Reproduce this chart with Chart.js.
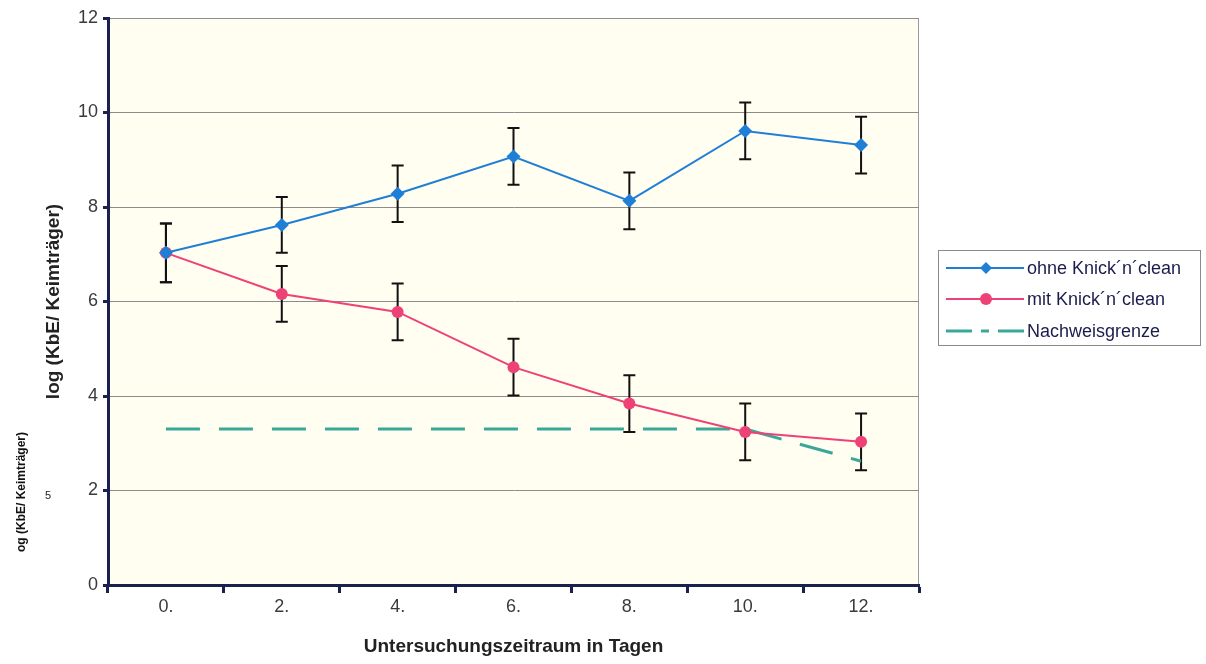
<!DOCTYPE html>
<html>
<head>
<meta charset="utf-8">
<script src="https://cdn.jsdelivr.net/npm/chart.js@4/dist/chart.umd.min.js"></script>
<style>
  html, body { margin: 0; padding: 0; background: #ffffff; }
  #wrap { width: 1206px; height: 664px; position: relative; }
</style>
</head>
<body>
<div id="wrap"><canvas id="c" width="1206" height="664"></canvas></div>
<script>
const categories = ['0.', '2.', '4.', '6.', '8.', '10.', '12.'];
const ohneKnick = [7.03, 7.62, 8.28, 9.07, 8.13, 9.61, 9.31];
const ohneKnickErr = [0.62, 0.59, 0.60, 0.60, 0.60, 0.60, 0.60];
const mitKnick = [7.03, 6.16, 5.78, 4.61, 3.84, 3.24, 3.03];
const mitKnickErr = [0.62, 0.59, 0.60, 0.60, 0.60, 0.60, 0.60];
const nachweisgrenze = [3.3, 3.3, 3.3, 3.3, 3.3, 3.3, 2.62];
const seriesNames = ['ohne Knick\u00b4n\u00b4clean', 'mit Knick\u00b4n\u00b4clean', 'Nachweisgrenze'];
const xTitle = 'Untersuchungszeitraum in Tagen';
const yTitle = 'log (KbE/ Keimträger)';

const BLUE = '#1f7fd6';
const RED = '#ee4277';
const TEAL = '#3aa898';
const NAVY = '#1a2050';
const FONT = "'Liberation Sans', Arial, sans-serif";

const bgPlugin = {
  id: 'bg',
  beforeDraw(chart) {
    const { ctx, chartArea: a } = chart;
    ctx.save();
    ctx.fillStyle = '#ffffff';
    ctx.fillRect(0, 0, chart.width, chart.height);
    ctx.fillStyle = '#fffef1';
    ctx.fillRect(a.left, a.top, a.right - a.left, a.bottom - a.top);
    ctx.strokeStyle = '#9a9a9a';
    ctx.lineWidth = 1;
    ctx.strokeRect(a.left + 0.5, a.top + 0.5, a.right - a.left - 1, a.bottom - a.top);
    ctx.restore();
  }
};

const errPlugin = {
  id: 'errbars',
  beforeDatasetsDraw(chart) {
    const { ctx } = chart;
    const xs = chart.scales.x, ys = chart.scales.y;
    const sets = [[ohneKnick, ohneKnickErr], [mitKnick, mitKnickErr]];
    ctx.save();
    ctx.strokeStyle = '#111111';
    ctx.lineWidth = 2;
    sets.forEach(([vals, errs]) => {
      vals.forEach((v, i) => {
        const x = xs.getPixelForValue(i);
        const yt = ys.getPixelForValue(v + errs[i]);
        const yb = ys.getPixelForValue(v - errs[i]);
        ctx.beginPath();
        ctx.moveTo(x, yt); ctx.lineTo(x, yb);
        ctx.moveTo(x - 6, yt); ctx.lineTo(x + 6, yt);
        ctx.moveTo(x - 6, yb); ctx.lineTo(x + 6, yb);
        ctx.stroke();
      });
    });
    ctx.restore();
  }
};

const textPlugin = {
  id: 'texts',
  afterDraw(chart) {
    const { ctx, chartArea: a } = chart;
    ctx.save();
    // axis titles
    ctx.fillStyle = '#222222';
    ctx.font = 'bold 19px ' + FONT;
    ctx.textAlign = 'center';
    ctx.textBaseline = 'middle';
    ctx.fillText(xTitle, (a.left + a.right) / 2, 647);
    ctx.save();
    ctx.translate(54, (a.top + a.bottom) / 2);
    ctx.rotate(-Math.PI / 2);
    ctx.font = 'bold 19px ' + FONT;
    ctx.fillText(yTitle, 0, 0);
    ctx.restore();
    // stray scan text at far left
    ctx.save();
    ctx.font = 'bold 12px ' + FONT;
    ctx.fillStyle = '#111111';
    ctx.translate(22, 492);
    ctx.rotate(-Math.PI / 2);
    ctx.fillText('og (KbE/ Keimträger)', 0, 0);
    ctx.restore();
    ctx.font = '11px ' + FONT;
    ctx.fillStyle = '#222222';
    ctx.fillText('5', 48, 496);

    // legend
    const lx = 938, ly = 250, lw = 262, lh = 95;
    ctx.fillStyle = '#ffffff';
    ctx.fillRect(lx, ly, lw, lh);
    ctx.strokeStyle = '#8a8a8a';
    ctx.lineWidth = 1;
    ctx.strokeRect(lx + 0.5, ly + 0.5, lw, lh);
    const rows = [268, 299, 331];
    ctx.textAlign = 'left';
    ctx.font = '18px ' + FONT;
    rows.forEach((ry, i) => {
      ctx.save();
      if (i === 0) {
        ctx.strokeStyle = BLUE; ctx.lineWidth = 2;
        ctx.beginPath(); ctx.moveTo(946, ry); ctx.lineTo(1024, ry); ctx.stroke();
        ctx.fillStyle = BLUE;
        ctx.beginPath();
        ctx.moveTo(986, ry - 6); ctx.lineTo(992, ry); ctx.lineTo(986, ry + 6); ctx.lineTo(980, ry);
        ctx.closePath(); ctx.fill();
      } else if (i === 1) {
        ctx.strokeStyle = RED; ctx.lineWidth = 2;
        ctx.beginPath(); ctx.moveTo(946, ry); ctx.lineTo(1024, ry); ctx.stroke();
        ctx.fillStyle = RED;
        ctx.beginPath(); ctx.arc(986, ry, 6, 0, Math.PI * 2); ctx.fill();
      } else {
        ctx.strokeStyle = TEAL; ctx.lineWidth = 3;
        ctx.beginPath();
        ctx.moveTo(946, ry); ctx.lineTo(972, ry);
        ctx.moveTo(981, ry); ctx.lineTo(989, ry);
        ctx.moveTo(998, ry); ctx.lineTo(1024, ry);
        ctx.stroke();
      }
      ctx.restore();
      ctx.fillStyle = '#1c1c4c';
      ctx.fillText(seriesNames[i], 1027, ry + 1);
    });
    ctx.restore();
  }
};

new Chart(document.getElementById('c'), {
  type: 'line',
  data: {
    labels: categories,
    datasets: [
      {
        label: seriesNames[0], data: ohneKnick, order: 0,
        borderColor: BLUE, backgroundColor: BLUE, borderWidth: 2,
        pointStyle: 'rectRot', pointRadius: 7, pointBorderWidth: 0,
        tension: 0
      },
      {
        label: seriesNames[1], data: mitKnick, order: 1,
        borderColor: RED, backgroundColor: RED, borderWidth: 2,
        pointStyle: 'circle', pointRadius: 6, pointBorderWidth: 0,
        tension: 0
      },
      {
        label: seriesNames[2], data: nachweisgrenze, order: 2,
        borderColor: TEAL, backgroundColor: TEAL, borderWidth: 3,
        borderDash: [34, 19], pointRadius: 0, tension: 0
      }
    ]
  },
  options: {
    responsive: false,
    animation: false,
    layout: { padding: { left: 0, top: 18, right: 287, bottom: 0 } },
    plugins: { legend: { display: false }, tooltip: { enabled: false }, title: { display: false } },
    scales: {
      x: {
        type: 'category',
        offset: true,
        grid: { offset: true, drawOnChartArea: false, drawTicks: true, tickLength: 8, tickColor: NAVY, tickWidth: 3 },
        border: { color: NAVY, width: 3 },
        ticks: { color: '#3a3a3a', font: { size: 18, family: FONT }, padding: 3 },
        afterFit(s) { s.height = 79; }
      },
      y: {
        min: 0, max: 12,
        ticks: { stepSize: 2, color: '#3a3a3a', font: { size: 18, family: FONT }, padding: 5 },
        grid: { color: '#8c8c8c', lineWidth: 1, tickLength: 5, tickColor: NAVY, tickWidth: 3 },
        border: { color: NAVY, width: 3 },
        afterFit(s) { s.width = 108; }
      }
    }
  },
  plugins: [bgPlugin, errPlugin, textPlugin]
});
</script>
</body>
</html>
